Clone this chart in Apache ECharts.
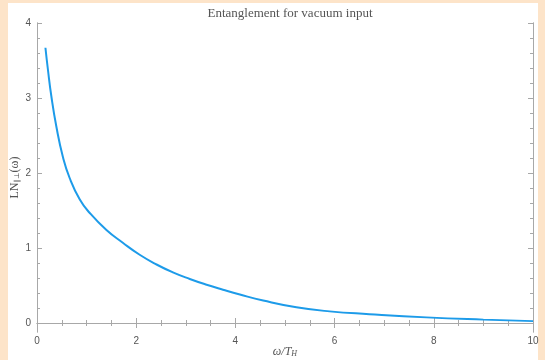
<!DOCTYPE html>
<html>
<head>
<meta charset="utf-8">
<script src="https://cdn.jsdelivr.net/npm/echarts@6/dist/echarts.min.js"></script>
<style>
html,body{margin:0;padding:0;background:#fde4c9;}
#c{width:545px;height:360px;}
</style>
</head>
<body>
<div id="c"></div>
<script>
var title = 'Entanglement for vacuum input';
var xValues = [0.17,0.22,0.29,0.39,0.52,0.66,0.86,1.06,1.40,1.73,2.07,2.41,2.74,3.08,3.42,3.75,4.09,4.56,5.23,5.90,6.70,7.85,9.00,10.00];
var yValues = [3.67,3.38,3.02,2.62,2.22,1.93,1.65,1.47,1.24,1.07,0.91,0.78,0.675,0.587,0.51,0.444,0.38,0.30,0.21,0.155,0.118,0.075,0.045,0.025];
var yMajor = [0,1,2,3,4];
var yMinor = [0,0.2,0.4,0.6,0.8,1.2,1.4,1.6,1.8,2.2,2.4,2.6,2.8,3.2,3.4,3.6,3.8];

var pts = xValues.map(function(x,i){return [x,yValues[i]];});
var gray = '#a8a8a8';
var txt = '#555';
var yMin = -0.12, yMax = 4;

function yAx(pos, major, label){
  return {
    type:'value', min:yMin, max:yMax, position:pos,
    axisLine:{show:true,lineStyle:{color:gray,width:1}},
    axisTick:{show:true,inside:true,length:major?5:3,customValues:major?yMajor:yMinor,lineStyle:{color:gray}},
    axisLabel:{show:label,customValues:yMajor,color:txt,fontSize:10,margin:6,fontFamily:'Liberation Sans'},
    splitLine:{show:false},
    name: label ? 'LN{s|‖⊥}(ω)' : '',
    nameLocation:'middle', nameGap:16, nameRotate:90, nameMoveOverlap:false,
    nameTextStyle:{color:txt,fontSize:12,fontFamily:'Liberation Serif',rich:{s:{fontSize:7,color:txt,verticalAlign:'bottom',fontFamily:'DejaVu Serif'}}}
  };
}

var chart = echarts.init(document.getElementById('c'));
chart.setOption({
  backgroundColor:'#fde4c9',
  animation:false,
  graphic:[{type:'rect',shape:{x:8,y:3,width:530,height:357},style:{fill:'#ffffff'},z:-10}],
  title:{text:title,left:285,top:2,textAlign:'center',textStyle:{fontFamily:'Liberation Serif',fontWeight:'normal',fontSize:13,color:'#555'}},
  grid:{left:37,right:12,top:23,bottom:28,outerBoundsMode:'none',containLabel:false},
  xAxis:[
    {type:'value',min:0,max:10,interval:2,position:'bottom',
     axisLine:{show:true,lineStyle:{color:gray}},
     axisTick:{show:true,inside:true,length:5,lineStyle:{color:gray}},
     minorTick:{show:true,splitNumber:4,length:3,lineStyle:{color:gray}},
     axisLabel:{color:txt,fontSize:10,margin:4,fontFamily:'Liberation Sans'},
     splitLine:{show:false},
     name:'ω/T{s|H}',nameLocation:'middle',nameGap:14,nameMoveOverlap:false,
     nameTextStyle:{color:txt,fontSize:12,fontStyle:'italic',fontFamily:'Liberation Serif',rich:{s:{fontSize:8,fontStyle:'italic',color:txt,verticalAlign:'bottom',fontFamily:'Liberation Serif'}}}},
    {type:'value',min:0,max:10,interval:2,position:'top',
     axisLine:{show:true,lineStyle:{color:gray}},
     axisTick:{show:true,inside:true,length:5,lineStyle:{color:gray}},
     minorTick:{show:true,splitNumber:4,length:3,lineStyle:{color:gray}},
     axisLabel:{show:false},splitLine:{show:false}}
  ],
  yAxis:[yAx('left',true,true),yAx('left',false,false),yAx('right',true,false),yAx('right',false,false)],
  series:[{type:'line',data:pts,smooth:0.5,showSymbol:false,xAxisIndex:0,yAxisIndex:0,
    lineStyle:{color:'#1d9be9',width:2},clip:true}]
});
</script>
</body>
</html>
